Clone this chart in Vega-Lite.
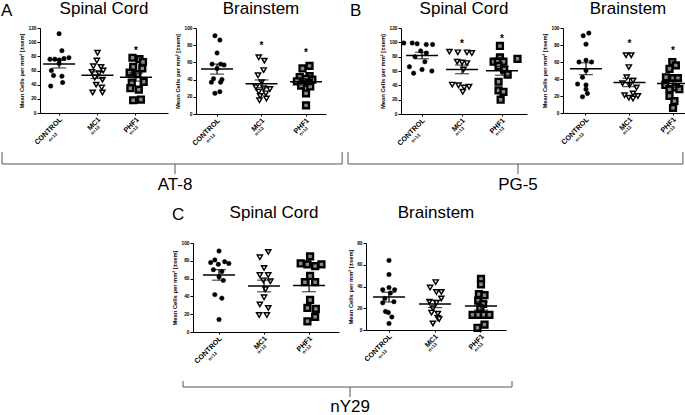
{
"$schema": "https://vega.github.io/schema/vega-lite/v6.json",
"background": "white",
"padding": 0,
"autosize": {"type": "pad"},
"config": {
  "view": {"stroke": null},
  "font": "Liberation Sans",
  "title": {"font": "Liberation Sans", "fontSize": 17, "fontWeight": "normal", "color": "#000", "frame": "group"},
  "axis": {"grid": false, "domainColor": "#000", "tickColor": "#000", "labelColor": "#000", "titleColor": "#000", "labelFont": "Liberation Sans", "titleFont": "Liberation Sans"},
  "axisY": {"tickSize": 3, "labelFontSize": 4.8, "labelFontWeight": "bold", "labelPadding": 1, "labelOverlap": false, "labelFlush": false, "titleFontSize": 5.8, "titleFontWeight": "bold", "titlePadding": 3},
  "axisX": {"labelAngle": -45, "labelAlign": "right", "labelBaseline": "middle", "labelFontSize": 7.2, "labelFontWeight": "bold", "labelPadding": 3, "labelOffset": 2, "tickSize": 2}
},
"datasets": {
  "pts": [
    {"p":"A-SC","g":"CONTROL","v":112,"s":0},{"p":"A-SC","g":"CONTROL","v":88,"s":0.2},{"p":"A-SC","g":"CONTROL","v":78,"s":0.7},{"p":"A-SC","g":"CONTROL","v":77,"s":0.35},{"p":"A-SC","g":"CONTROL","v":76,"s":-0.3},{"p":"A-SC","g":"CONTROL","v":76,"s":-0.65},{"p":"A-SC","g":"CONTROL","v":75,"s":0.02},{"p":"A-SC","g":"CONTROL","v":70,"s":0},{"p":"A-SC","g":"CONTROL","v":60,"s":-0.55},{"p":"A-SC","g":"CONTROL","v":53,"s":-0.4},{"p":"A-SC","g":"CONTROL","v":52,"s":0.2},{"p":"A-SC","g":"CONTROL","v":43,"s":0.25},{"p":"A-SC","g":"CONTROL","v":38,"s":-0.6},
    {"p":"A-SC","g":"MC1","v":85,"s":0},{"p":"A-SC","g":"MC1","v":74,"s":-0.05},{"p":"A-SC","g":"MC1","v":66,"s":-0.3},{"p":"A-SC","g":"MC1","v":65,"s":0.25},{"p":"A-SC","g":"MC1","v":60,"s":0.4},{"p":"A-SC","g":"MC1","v":58,"s":-0.4},{"p":"A-SC","g":"MC1","v":56,"s":0.1},{"p":"A-SC","g":"MC1","v":50,"s":-0.2},{"p":"A-SC","g":"MC1","v":47,"s":0.35},{"p":"A-SC","g":"MC1","v":40,"s":-0.1},{"p":"A-SC","g":"MC1","v":36,"s":0.3},{"p":"A-SC","g":"MC1","v":29,"s":-0.35},{"p":"A-SC","g":"MC1","v":29,"s":0.35},
    {"p":"A-SC","g":"PHF1","v":78,"s":-0.25},{"p":"A-SC","g":"PHF1","v":76,"s":0.25},{"p":"A-SC","g":"PHF1","v":72,"s":0.5},{"p":"A-SC","g":"PHF1","v":65,"s":-0.2},{"p":"A-SC","g":"PHF1","v":63,"s":0.45},{"p":"A-SC","g":"PHF1","v":57,"s":-0.45},{"p":"A-SC","g":"PHF1","v":55,"s":0.1},{"p":"A-SC","g":"PHF1","v":44,"s":0.55},{"p":"A-SC","g":"PHF1","v":43,"s":-0.3},{"p":"A-SC","g":"PHF1","v":35,"s":-0.4},{"p":"A-SC","g":"PHF1","v":33,"s":0.2},{"p":"A-SC","g":"PHF1","v":19,"s":0.35},{"p":"A-SC","g":"PHF1","v":18,"s":-0.2},
    {"p":"A-BS","g":"CONTROL","v":91,"s":-0.15},{"p":"A-BS","g":"CONTROL","v":86,"s":0.2},{"p":"A-BS","g":"CONTROL","v":71,"s":0},{"p":"A-BS","g":"CONTROL","v":58,"s":-0.35},{"p":"A-BS","g":"CONTROL","v":58,"s":0.25},{"p":"A-BS","g":"CONTROL","v":57,"s":0.5},{"p":"A-BS","g":"CONTROL","v":53,"s":0},{"p":"A-BS","g":"CONTROL","v":41,"s":-0.25},{"p":"A-BS","g":"CONTROL","v":40,"s":0.35},{"p":"A-BS","g":"CONTROL","v":37,"s":-0.4},{"p":"A-BS","g":"CONTROL","v":37,"s":0.25},{"p":"A-BS","g":"CONTROL","v":26,"s":0.2},{"p":"A-BS","g":"CONTROL","v":24,"s":-0.15},
    {"p":"A-BS","g":"MC1","v":66,"s":-0.2},{"p":"A-BS","g":"MC1","v":62,"s":0.2},{"p":"A-BS","g":"MC1","v":51,"s":0.15},{"p":"A-BS","g":"MC1","v":45,"s":-0.25},{"p":"A-BS","g":"MC1","v":37,"s":0},{"p":"A-BS","g":"MC1","v":31,"s":-0.4},{"p":"A-BS","g":"MC1","v":30,"s":0.15},{"p":"A-BS","g":"MC1","v":29,"s":0.6},{"p":"A-BS","g":"MC1","v":26,"s":-0.2},{"p":"A-BS","g":"MC1","v":24,"s":0.3},{"p":"A-BS","g":"MC1","v":21,"s":-0.1},{"p":"A-BS","g":"MC1","v":18,"s":0.35},{"p":"A-BS","g":"MC1","v":16,"s":-0.15},
    {"p":"A-BS","g":"PHF1","v":56,"s":0.25},{"p":"A-BS","g":"PHF1","v":53,"s":-0.25},{"p":"A-BS","g":"PHF1","v":44,"s":0.25},{"p":"A-BS","g":"PHF1","v":43,"s":-0.45},{"p":"A-BS","g":"PHF1","v":41,"s":0},{"p":"A-BS","g":"PHF1","v":40,"s":0.45},{"p":"A-BS","g":"PHF1","v":38,"s":-0.65},{"p":"A-BS","g":"PHF1","v":36,"s":0.2},{"p":"A-BS","g":"PHF1","v":33,"s":-0.35},{"p":"A-BS","g":"PHF1","v":32,"s":0.3},{"p":"A-BS","g":"PHF1","v":24,"s":0},{"p":"A-BS","g":"PHF1","v":10,"s":0},
    {"p":"B-SC","g":"CONTROL","v":99,"s":-1.3},{"p":"B-SC","g":"CONTROL","v":99,"s":-0.7},{"p":"B-SC","g":"CONTROL","v":98,"s":-0.35},{"p":"B-SC","g":"CONTROL","v":97,"s":0.3},{"p":"B-SC","g":"CONTROL","v":97,"s":0.75},{"p":"B-SC","g":"CONTROL","v":88,"s":-0.1},{"p":"B-SC","g":"CONTROL","v":85,"s":0.3},{"p":"B-SC","g":"CONTROL","v":80,"s":-0.5},{"p":"B-SC","g":"CONTROL","v":73,"s":0.2},{"p":"B-SC","g":"CONTROL","v":66,"s":-0.9},{"p":"B-SC","g":"CONTROL","v":62,"s":0},{"p":"B-SC","g":"CONTROL","v":60,"s":0.7},{"p":"B-SC","g":"CONTROL","v":57,"s":-0.6},
    {"p":"B-SC","g":"MC1","v":87,"s":-0.9},{"p":"B-SC","g":"MC1","v":86,"s":-0.3},{"p":"B-SC","g":"MC1","v":86,"s":0.35},{"p":"B-SC","g":"MC1","v":85,"s":0.7},{"p":"B-SC","g":"MC1","v":73,"s":-0.35},{"p":"B-SC","g":"MC1","v":72,"s":0},{"p":"B-SC","g":"MC1","v":71,"s":0.35},{"p":"B-SC","g":"MC1","v":62,"s":0.1},{"p":"B-SC","g":"MC1","v":41,"s":-0.7},{"p":"B-SC","g":"MC1","v":40,"s":-0.25},{"p":"B-SC","g":"MC1","v":38,"s":0.5},{"p":"B-SC","g":"MC1","v":37,"s":0.15},{"p":"B-SC","g":"MC1","v":31,"s":0.05},
    {"p":"B-SC","g":"PHF1","v":95,"s":-0.15},{"p":"B-SC","g":"PHF1","v":79,"s":-0.15},{"p":"B-SC","g":"PHF1","v":77,"s":1.1},{"p":"B-SC","g":"PHF1","v":73,"s":-0.6},{"p":"B-SC","g":"PHF1","v":73,"s":-0.3},{"p":"B-SC","g":"PHF1","v":73,"s":0.1},{"p":"B-SC","g":"PHF1","v":67,"s":-0.25},{"p":"B-SC","g":"PHF1","v":62,"s":0.15},{"p":"B-SC","g":"PHF1","v":55,"s":0.4},{"p":"B-SC","g":"PHF1","v":45,"s":-0.25},{"p":"B-SC","g":"PHF1","v":33,"s":-0.25},{"p":"B-SC","g":"PHF1","v":31,"s":0.1},{"p":"B-SC","g":"PHF1","v":20,"s":-0.1},
    {"p":"B-BS","g":"CONTROL","v":94,"s":0.2},{"p":"B-BS","g":"CONTROL","v":91,"s":-0.2},{"p":"B-BS","g":"CONTROL","v":81,"s":0},{"p":"B-BS","g":"CONTROL","v":62,"s":0},{"p":"B-BS","g":"CONTROL","v":60,"s":-0.5},{"p":"B-BS","g":"CONTROL","v":60,"s":0.4},{"p":"B-BS","g":"CONTROL","v":50,"s":0},{"p":"B-BS","g":"CONTROL","v":42,"s":-0.25},{"p":"B-BS","g":"CONTROL","v":34,"s":-0.6},{"p":"B-BS","g":"CONTROL","v":33,"s":0},{"p":"B-BS","g":"CONTROL","v":28,"s":0},{"p":"B-BS","g":"CONTROL","v":23,"s":0.1},{"p":"B-BS","g":"CONTROL","v":19,"s":-0.25},
    {"p":"B-BS","g":"MC1","v":68,"s":-0.25},{"p":"B-BS","g":"MC1","v":68,"s":0.12},{"p":"B-BS","g":"MC1","v":54,"s":-0.05},{"p":"B-BS","g":"MC1","v":42,"s":-0.2},{"p":"B-BS","g":"MC1","v":38,"s":0.25},{"p":"B-BS","g":"MC1","v":35,"s":-0.5},{"p":"B-BS","g":"MC1","v":33,"s":0},{"p":"B-BS","g":"MC1","v":30,"s":0.5},{"p":"B-BS","g":"MC1","v":23,"s":0.25},{"p":"B-BS","g":"MC1","v":21,"s":-0.35},{"p":"B-BS","g":"MC1","v":20,"s":0.6},{"p":"B-BS","g":"MC1","v":18,"s":-0.05},{"p":"B-BS","g":"MC1","v":17,"s":0.25},
    {"p":"B-BS","g":"PHF1","v":60,"s":-0.05},{"p":"B-BS","g":"PHF1","v":56,"s":0.2},{"p":"B-BS","g":"PHF1","v":52,"s":-0.25},{"p":"B-BS","g":"PHF1","v":42,"s":-0.5},{"p":"B-BS","g":"PHF1","v":41,"s":0},{"p":"B-BS","g":"PHF1","v":41,"s":0.35},{"p":"B-BS","g":"PHF1","v":33,"s":-0.55},{"p":"B-BS","g":"PHF1","v":30,"s":0.2},{"p":"B-BS","g":"PHF1","v":28,"s":-0.25},{"p":"B-BS","g":"PHF1","v":28,"s":0.45},{"p":"B-BS","g":"PHF1","v":20,"s":-0.25},{"p":"B-BS","g":"PHF1","v":14,"s":0.1},{"p":"B-BS","g":"PHF1","v":6,"s":0},
    {"p":"C-SC","g":"CONTROL","v":91,"s":0},{"p":"C-SC","g":"CONTROL","v":81,"s":-0.3},{"p":"C-SC","g":"CONTROL","v":79,"s":0.4},{"p":"C-SC","g":"CONTROL","v":78,"s":-0.6},{"p":"C-SC","g":"CONTROL","v":77,"s":0.7},{"p":"C-SC","g":"CONTROL","v":76,"s":-0.05},{"p":"C-SC","g":"CONTROL","v":70,"s":-0.4},{"p":"C-SC","g":"CONTROL","v":68,"s":0.2},{"p":"C-SC","g":"CONTROL","v":62,"s":0},{"p":"C-SC","g":"CONTROL","v":58,"s":0.3},{"p":"C-SC","g":"CONTROL","v":42,"s":-0.3},{"p":"C-SC","g":"CONTROL","v":38,"s":0.2},{"p":"C-SC","g":"CONTROL","v":14,"s":0},
    {"p":"C-SC","g":"MC1","v":90,"s":0.3},{"p":"C-SC","g":"MC1","v":84,"s":-0.3},{"p":"C-SC","g":"MC1","v":72,"s":0},{"p":"C-SC","g":"MC1","v":64,"s":-0.3},{"p":"C-SC","g":"MC1","v":64,"s":0.3},{"p":"C-SC","g":"MC1","v":58,"s":-0.05},{"p":"C-SC","g":"MC1","v":57,"s":0.45},{"p":"C-SC","g":"MC1","v":48,"s":0.1},{"p":"C-SC","g":"MC1","v":39,"s":0},{"p":"C-SC","g":"MC1","v":31,"s":-0.3},{"p":"C-SC","g":"MC1","v":27,"s":0.3},{"p":"C-SC","g":"MC1","v":19,"s":-0.35},{"p":"C-SC","g":"MC1","v":19,"s":0.2},
    {"p":"C-SC","g":"PHF1","v":85,"s":0.07},{"p":"C-SC","g":"PHF1","v":77,"s":-0.6},{"p":"C-SC","g":"PHF1","v":76,"s":-0.12},{"p":"C-SC","g":"PHF1","v":74,"s":0.43},{"p":"C-SC","g":"PHF1","v":76,"s":0.88},{"p":"C-SC","g":"PHF1","v":63,"s":0.07},{"p":"C-SC","g":"PHF1","v":56,"s":-0.3},{"p":"C-SC","g":"PHF1","v":56,"s":0.43},{"p":"C-SC","g":"PHF1","v":36,"s":0.07},{"p":"C-SC","g":"PHF1","v":27,"s":-0.12},{"p":"C-SC","g":"PHF1","v":26,"s":0.48},{"p":"C-SC","g":"PHF1","v":17,"s":0.43},{"p":"C-SC","g":"PHF1","v":12,"s":-0.12},
    {"p":"C-BS","g":"CONTROL","v":64,"s":0},{"p":"C-BS","g":"CONTROL","v":51,"s":0},{"p":"C-BS","g":"CONTROL","v":39,"s":0},{"p":"C-BS","g":"CONTROL","v":37,"s":-0.45},{"p":"C-BS","g":"CONTROL","v":37,"s":0.4},{"p":"C-BS","g":"CONTROL","v":34,"s":0.1},{"p":"C-BS","g":"CONTROL","v":29,"s":-0.3},{"p":"C-BS","g":"CONTROL","v":26,"s":0.35},{"p":"C-BS","g":"CONTROL","v":25,"s":-0.45},{"p":"C-BS","g":"CONTROL","v":17,"s":-0.25},{"p":"C-BS","g":"CONTROL","v":16,"s":-0.05},{"p":"C-BS","g":"CONTROL","v":12,"s":0.2},{"p":"C-BS","g":"CONTROL","v":6,"s":0},
    {"p":"C-BS","g":"MC1","v":44,"s":0.05},{"p":"C-BS","g":"MC1","v":39,"s":-0.35},{"p":"C-BS","g":"MC1","v":35,"s":0.1},{"p":"C-BS","g":"MC1","v":35,"s":0.45},{"p":"C-BS","g":"MC1","v":29,"s":0.45},{"p":"C-BS","g":"MC1","v":26,"s":-0.4},{"p":"C-BS","g":"MC1","v":25,"s":0.1},{"p":"C-BS","g":"MC1","v":20,"s":-0.15},{"p":"C-BS","g":"MC1","v":16,"s":-0.25},{"p":"C-BS","g":"MC1","v":15,"s":0.2},{"p":"C-BS","g":"MC1","v":11,"s":0.2},{"p":"C-BS","g":"MC1","v":10,"s":0.3},{"p":"C-BS","g":"MC1","v":6,"s":-0.15},
    {"p":"C-BS","g":"PHF1","v":47,"s":0},{"p":"C-BS","g":"PHF1","v":42,"s":0},{"p":"C-BS","g":"PHF1","v":33,"s":-0.15},{"p":"C-BS","g":"PHF1","v":32,"s":0.25},{"p":"C-BS","g":"PHF1","v":27,"s":-0.2},{"p":"C-BS","g":"PHF1","v":24,"s":0.15},{"p":"C-BS","g":"PHF1","v":20,"s":-0.05},{"p":"C-BS","g":"PHF1","v":14,"s":-0.6},{"p":"C-BS","g":"PHF1","v":14,"s":-0.2},{"p":"C-BS","g":"PHF1","v":14,"s":0.2},{"p":"C-BS","g":"PHF1","v":14,"s":0.6},{"p":"C-BS","g":"PHF1","v":5,"s":0.25},{"p":"C-BS","g":"PHF1","v":2,"s":-0.25}
  ],
  "stars": [
    {"p":"A-SC","g":"PHF1","v":90},{"p":"A-BS","g":"MC1","v":81},{"p":"A-BS","g":"PHF1","v":73},{"p":"B-SC","g":"MC1","v":101},{"p":"B-SC","g":"PHF1","v":107},{"p":"B-BS","g":"MC1","v":84},{"p":"B-BS","g":"PHF1","v":75}
  ],
  "brk1": [
    {"label":"AT-8","start":0.15,"end":49.8,"mid":25.4},
    {"label":"PG-5","start":50.66,"end":99.55,"mid":75.47}
  ],
  "brk2": [
    {"label":"nY29","start":26.57,"end":74.6,"mid":50.95}
  ]
},
"spacing": 0,
"vconcat": [
  {"spacing": 23, "hconcat": [
    {"title": {"text": "A", "anchor": "start", "frame": "bounds", "offset": -20, "dx": -18}, "spacing": 6, "hconcat": [
      {"width": 128, "height": 85, "title": {"text": "Spinal Cord", "offset": 7}, "resolve": {"axis": {"x": "independent"}},
       "layer": [
        {"data": {"name": "pts"}, "transform": [{"filter": "datum.p=='A-SC'"}],
         "mark": {"type": "point", "filled": true, "stroke": "#000", "opacity": 1},
         "encoding": {
          "x": {"field": "g", "type": "nominal", "title": null, "scale": {"type": "band", "domain": ["CONTROL","MC1","PHF1"], "paddingInner": 0.27, "paddingOuter": 0.3, "align": 0.22}},
          "xOffset": {"field": "s", "type": "quantitative", "scale": {"domain": [-1, 1]}},
          "y": {"field": "v", "type": "quantitative", "title": "Mean Cells per mm² [±sem]", "scale": {"domain": [0, 120], "nice": false}, "axis": {"values": [0,20,40,60,80,100,120]}},
          "shape": {"field": "g", "type": "nominal", "scale": {"domain": ["CONTROL","MC1","PHF1"], "range": ["circle","triangle-down","square"]}, "legend": null},
          "fill": {"field": "g", "type": "nominal", "scale": {"domain": ["CONTROL","MC1","PHF1"], "range": ["#000","#fff","#888"]}, "legend": null},
          "size": {"field": "g", "type": "nominal", "scale": {"domain": ["CONTROL","MC1","PHF1"], "range": [20, 34, 22]}, "legend": null},
          "strokeWidth": {"field": "g", "type": "nominal", "scale": {"domain": ["CONTROL","MC1","PHF1"], "range": [0.5, 2.4, 1.1]}, "legend": null}
         }},
        {"data": {"name": "pts"}, "transform": [{"filter": "datum.p=='A-SC'"}],
         "mark": {"type": "tick", "color": "#000", "size": 32, "thickness": 1.5},
         "encoding": {
          "x": {"field": "g", "type": "nominal", "title": null, "axis": {"orient": "bottom", "labelExpr": "'n=13'", "domain": false, "ticks": false, "labelAngle": -45, "labelAlign": "center", "labelBaseline": "middle", "labelFontSize": 4.5, "labelPadding": {"condition": {"test": "datum.value=='CONTROL'", "value": 24}, "value": 17}, "labelOffset": {"condition": {"test": "datum.value=='CONTROL'", "value": -6}, "value": -2}}},
          "y": {"aggregate": "mean", "field": "v", "type": "quantitative", "title": "Mean Cells per mm² [±sem]", "axis": {"values": [0,20,40,60,80,100,120]}}
         }},
        {"data": {"name": "pts"}, "transform": [{"filter": "datum.p=='A-SC'"}],
         "mark": {"type": "errorbar", "extent": "stderr", "color": "#000", "ticks": {"size": 14, "thickness": 1.2}, "rule": {"strokeWidth": 1.2}},
         "encoding": {
          "x": {"field": "g", "type": "nominal", "axis": null},
          "y": {"field": "v", "type": "quantitative", "title": "Mean Cells per mm² [±sem]", "axis": {"values": [0,20,40,60,80,100,120]}}
         }},
        {"data": {"name": "stars"}, "transform": [{"filter": "datum.p=='A-SC'"}],
         "mark": {"type": "text", "text": "*", "fontSize": 10, "fontWeight": "bold", "baseline": "middle", "dy": 2, "color": "#000"},
         "encoding": {
          "x": {"field": "g", "type": "nominal", "axis": null},
          "y": {"field": "v", "type": "quantitative", "title": "Mean Cells per mm² [±sem]", "axis": {"values": [0,20,40,60,80,100,120]}}
         }}
       ]},
      {"width": 130, "height": 86, "title": {"text": "Brainstem", "offset": 7}, "resolve": {"axis": {"x": "independent"}},
       "layer": [
        {"data": {"name": "pts"}, "transform": [{"filter": "datum.p=='A-BS'"}],
         "mark": {"type": "point", "filled": true, "stroke": "#000", "opacity": 1},
         "encoding": {
          "x": {"field": "g", "type": "nominal", "title": null, "scale": {"type": "band", "domain": ["CONTROL","MC1","PHF1"], "paddingInner": 0.37, "paddingOuter": 0.146, "align": 0.54}},
          "xOffset": {"field": "s", "type": "quantitative", "scale": {"domain": [-1, 1]}},
          "y": {"field": "v", "type": "quantitative", "title": "Mean Cells per mm² [±sem]", "scale": {"domain": [0, 100], "nice": false}, "axis": {"values": [0,20,40,60,80,100]}},
          "shape": {"field": "g", "type": "nominal", "scale": {"domain": ["CONTROL","MC1","PHF1"], "range": ["circle","triangle-down","square"]}, "legend": null},
          "fill": {"field": "g", "type": "nominal", "scale": {"domain": ["CONTROL","MC1","PHF1"], "range": ["#000","#fff","#888"]}, "legend": null},
          "size": {"field": "g", "type": "nominal", "scale": {"domain": ["CONTROL","MC1","PHF1"], "range": [20, 34, 22]}, "legend": null},
          "strokeWidth": {"field": "g", "type": "nominal", "scale": {"domain": ["CONTROL","MC1","PHF1"], "range": [0.5, 2.4, 1.1]}, "legend": null}
         }},
        {"data": {"name": "pts"}, "transform": [{"filter": "datum.p=='A-BS'"}],
         "mark": {"type": "tick", "color": "#000", "size": 32, "thickness": 1.5},
         "encoding": {
          "x": {"field": "g", "type": "nominal", "title": null, "axis": {"orient": "bottom", "labelExpr": "datum.value=='PHF1' ? 'n=12' : 'n=13'", "domain": false, "ticks": false, "labelAngle": -45, "labelAlign": "center", "labelBaseline": "middle", "labelFontSize": 4.5, "labelPadding": {"condition": {"test": "datum.value=='CONTROL'", "value": 24}, "value": 17}, "labelOffset": {"condition": {"test": "datum.value=='CONTROL'", "value": -6}, "value": -2}}},
          "y": {"aggregate": "mean", "field": "v", "type": "quantitative", "title": "Mean Cells per mm² [±sem]", "axis": {"values": [0,20,40,60,80,100]}}
         }},
        {"data": {"name": "pts"}, "transform": [{"filter": "datum.p=='A-BS'"}],
         "mark": {"type": "errorbar", "extent": "stderr", "color": "#000", "ticks": {"size": 14, "thickness": 1.2}, "rule": {"strokeWidth": 1.2}},
         "encoding": {
          "x": {"field": "g", "type": "nominal", "axis": null},
          "y": {"field": "v", "type": "quantitative", "title": "Mean Cells per mm² [±sem]", "axis": {"values": [0,20,40,60,80,100]}}
         }},
        {"data": {"name": "stars"}, "transform": [{"filter": "datum.p=='A-BS'"}],
         "mark": {"type": "text", "text": "*", "fontSize": 10, "fontWeight": "bold", "baseline": "middle", "dy": 2, "color": "#000"},
         "encoding": {
          "x": {"field": "g", "type": "nominal", "axis": null},
          "y": {"field": "v", "type": "quantitative", "title": "Mean Cells per mm² [±sem]", "axis": {"values": [0,20,40,60,80,100]}}
         }}
       ]}
    ]},
    {"title": {"text": "B", "anchor": "start", "frame": "bounds", "offset": -20, "dx": -30}, "spacing": 14, "hconcat": [
      {"width": 126, "height": 86, "title": {"text": "Spinal Cord", "offset": 7}, "resolve": {"axis": {"x": "independent"}},
       "layer": [
        {"data": {"name": "pts"}, "transform": [{"filter": "datum.p=='B-SC'"}],
         "mark": {"type": "point", "filled": true, "stroke": "#000", "opacity": 1},
         "encoding": {
          "x": {"field": "g", "type": "nominal", "title": null, "scale": {"type": "band", "domain": ["CONTROL","MC1","PHF1"], "paddingInner": 0.3, "paddingOuter": 0.225, "align": 0.39}},
          "xOffset": {"field": "s", "type": "quantitative", "scale": {"domain": [-1, 1]}},
          "y": {"field": "v", "type": "quantitative", "title": "Mean Cells per mm² [±sem]", "scale": {"domain": [0, 120], "nice": false}, "axis": {"values": [0,20,40,60,80,100,120]}},
          "shape": {"field": "g", "type": "nominal", "scale": {"domain": ["CONTROL","MC1","PHF1"], "range": ["circle","triangle-down","square"]}, "legend": null},
          "fill": {"field": "g", "type": "nominal", "scale": {"domain": ["CONTROL","MC1","PHF1"], "range": ["#000","#fff","#888"]}, "legend": null},
          "size": {"field": "g", "type": "nominal", "scale": {"domain": ["CONTROL","MC1","PHF1"], "range": [20, 34, 22]}, "legend": null},
          "strokeWidth": {"field": "g", "type": "nominal", "scale": {"domain": ["CONTROL","MC1","PHF1"], "range": [0.5, 2.4, 1.1]}, "legend": null}
         }},
        {"data": {"name": "pts"}, "transform": [{"filter": "datum.p=='B-SC'"}],
         "mark": {"type": "tick", "color": "#000", "size": 32, "thickness": 1.5},
         "encoding": {
          "x": {"field": "g", "type": "nominal", "title": null, "axis": {"orient": "bottom", "labelExpr": "'n=13'", "domain": false, "ticks": false, "labelAngle": -45, "labelAlign": "center", "labelBaseline": "middle", "labelFontSize": 4.5, "labelPadding": {"condition": {"test": "datum.value=='CONTROL'", "value": 24}, "value": 17}, "labelOffset": {"condition": {"test": "datum.value=='CONTROL'", "value": -6}, "value": -2}}},
          "y": {"aggregate": "mean", "field": "v", "type": "quantitative", "title": "Mean Cells per mm² [±sem]", "axis": {"values": [0,20,40,60,80,100,120]}}
         }},
        {"data": {"name": "pts"}, "transform": [{"filter": "datum.p=='B-SC'"}],
         "mark": {"type": "errorbar", "extent": "stderr", "color": "#000", "ticks": {"size": 14, "thickness": 1.2}, "rule": {"strokeWidth": 1.2}},
         "encoding": {
          "x": {"field": "g", "type": "nominal", "axis": null},
          "y": {"field": "v", "type": "quantitative", "title": "Mean Cells per mm² [±sem]", "axis": {"values": [0,20,40,60,80,100,120]}}
         }},
        {"data": {"name": "stars"}, "transform": [{"filter": "datum.p=='B-SC'"}],
         "mark": {"type": "text", "text": "*", "fontSize": 10, "fontWeight": "bold", "baseline": "middle", "dy": 2, "color": "#000"},
         "encoding": {
          "x": {"field": "g", "type": "nominal", "axis": null},
          "y": {"field": "v", "type": "quantitative", "title": "Mean Cells per mm² [±sem]", "axis": {"values": [0,20,40,60,80,100,120]}}
         }}
       ]},
      {"width": 130, "height": 85, "title": {"text": "Brainstem", "offset": 7}, "resolve": {"axis": {"x": "independent"}},
       "layer": [
        {"data": {"name": "pts"}, "transform": [{"filter": "datum.p=='B-BS'"}],
         "mark": {"type": "point", "filled": true, "stroke": "#000", "opacity": 1},
         "encoding": {
          "x": {"field": "g", "type": "nominal", "title": null, "scale": {"type": "band", "domain": ["CONTROL","MC1","PHF1"], "paddingInner": 0.356, "paddingOuter": 0.172, "align": 0.6}},
          "xOffset": {"field": "s", "type": "quantitative", "scale": {"domain": [-1, 1]}},
          "y": {"field": "v", "type": "quantitative", "title": "Mean Cells per mm² [±sem]", "scale": {"domain": [0, 100], "nice": false}, "axis": {"values": [0,20,40,60,80,100]}},
          "shape": {"field": "g", "type": "nominal", "scale": {"domain": ["CONTROL","MC1","PHF1"], "range": ["circle","triangle-down","square"]}, "legend": null},
          "fill": {"field": "g", "type": "nominal", "scale": {"domain": ["CONTROL","MC1","PHF1"], "range": ["#000","#fff","#888"]}, "legend": null},
          "size": {"field": "g", "type": "nominal", "scale": {"domain": ["CONTROL","MC1","PHF1"], "range": [20, 34, 22]}, "legend": null},
          "strokeWidth": {"field": "g", "type": "nominal", "scale": {"domain": ["CONTROL","MC1","PHF1"], "range": [0.5, 2.4, 1.1]}, "legend": null}
         }},
        {"data": {"name": "pts"}, "transform": [{"filter": "datum.p=='B-BS'"}],
         "mark": {"type": "tick", "color": "#000", "size": 32, "thickness": 1.5},
         "encoding": {
          "x": {"field": "g", "type": "nominal", "title": null, "axis": {"orient": "bottom", "labelExpr": "'n=13'", "domain": false, "ticks": false, "labelAngle": -45, "labelAlign": "center", "labelBaseline": "middle", "labelFontSize": 4.5, "labelPadding": {"condition": {"test": "datum.value=='CONTROL'", "value": 24}, "value": 17}, "labelOffset": {"condition": {"test": "datum.value=='CONTROL'", "value": -6}, "value": -2}}},
          "y": {"aggregate": "mean", "field": "v", "type": "quantitative", "title": "Mean Cells per mm² [±sem]", "axis": {"values": [0,20,40,60,80,100]}}
         }},
        {"data": {"name": "pts"}, "transform": [{"filter": "datum.p=='B-BS'"}],
         "mark": {"type": "errorbar", "extent": "stderr", "color": "#000", "ticks": {"size": 14, "thickness": 1.2}, "rule": {"strokeWidth": 1.2}},
         "encoding": {
          "x": {"field": "g", "type": "nominal", "axis": null},
          "y": {"field": "v", "type": "quantitative", "title": "Mean Cells per mm² [±sem]", "axis": {"values": [0,20,40,60,80,100]}}
         }},
        {"data": {"name": "stars"}, "transform": [{"filter": "datum.p=='B-BS'"}],
         "mark": {"type": "text", "text": "*", "fontSize": 10, "fontWeight": "bold", "baseline": "middle", "dy": 2, "color": "#000"},
         "encoding": {
          "x": {"field": "g", "type": "nominal", "axis": null},
          "y": {"field": "v", "type": "quantitative", "title": "Mean Cells per mm² [±sem]", "axis": {"values": [0,20,40,60,80,100]}}
         }}
       ]}
    ]}
  ]},
  {"width": 646, "height": 57, "data": {"name": "brk1"},
   "layer": [
    {"mark": {"type": "rule", "color": "#555", "strokeWidth": 1}, "encoding": {"x": {"field": "start", "type": "quantitative", "scale": {"domain": [5.69, 100], "zero": false, "nice": false}, "axis": null}, "x2": {"field": "end"}, "y": {"datum": 0.702, "type": "quantitative", "scale": {"domain": [0, 1]}, "axis": null}}},
    {"mark": {"type": "rule", "color": "#555", "strokeWidth": 1}, "encoding": {"x": {"field": "start", "type": "quantitative", "scale": {"domain": [5.69, 100], "zero": false, "nice": false}, "axis": null}, "y": {"datum": 0.702, "type": "quantitative", "axis": null}, "y2": {"datum": 0.912}}},
    {"mark": {"type": "rule", "color": "#555", "strokeWidth": 1}, "encoding": {"x": {"field": "end", "type": "quantitative", "scale": {"domain": [5.69, 100], "zero": false, "nice": false}, "axis": null}, "y": {"datum": 0.702, "type": "quantitative", "axis": null}, "y2": {"datum": 0.912}}},
    {"mark": {"type": "rule", "color": "#555", "strokeWidth": 1}, "encoding": {"x": {"field": "mid", "type": "quantitative", "scale": {"domain": [5.69, 100], "zero": false, "nice": false}, "axis": null}, "y": {"datum": 0.526, "type": "quantitative", "axis": null}, "y2": {"datum": 0.702}}},
    {"mark": {"type": "text", "fontSize": 17, "baseline": "alphabetic", "color": "#000"}, "encoding": {"x": {"field": "mid", "type": "quantitative", "scale": {"domain": [5.69, 100], "zero": false, "nice": false}, "axis": null}, "y": {"datum": 0.246, "type": "quantitative", "axis": null}, "text": {"field": "label"}}}
   ]},
  {"spacing": 0, "hconcat": [
    {"width": 131, "height": 10, "data": {"values": []}, "mark": {"type": "point", "opacity": 0}, "encoding": {}},
    {"title": {"text": "C", "anchor": "start", "frame": "bounds", "offset": -20}, "spacing": 8, "hconcat": [
      {"width": 146, "height": 89, "title": {"text": "Spinal Cord", "offset": 18, "dx": 8}, "resolve": {"axis": {"x": "independent"}},
       "layer": [
        {"data": {"name": "pts"}, "transform": [{"filter": "datum.p=='C-SC'"}],
         "mark": {"type": "point", "filled": true, "stroke": "#000", "opacity": 1},
         "encoding": {
          "x": {"field": "g", "type": "nominal", "title": null, "scale": {"type": "band", "domain": ["CONTROL","MC1","PHF1"], "paddingInner": 0.378, "paddingOuter": 0.31, "align": 0.43}},
          "xOffset": {"field": "s", "type": "quantitative", "scale": {"domain": [-1, 1]}},
          "y": {"field": "v", "type": "quantitative", "title": "Mean Cells per mm² [±sem]", "scale": {"domain": [0, 100], "nice": false}, "axis": {"values": [0,20,40,60,80,100]}},
          "shape": {"field": "g", "type": "nominal", "scale": {"domain": ["CONTROL","MC1","PHF1"], "range": ["circle","triangle-down","square"]}, "legend": null},
          "fill": {"field": "g", "type": "nominal", "scale": {"domain": ["CONTROL","MC1","PHF1"], "range": ["#000","#fff","#888"]}, "legend": null},
          "size": {"field": "g", "type": "nominal", "scale": {"domain": ["CONTROL","MC1","PHF1"], "range": [20, 34, 22]}, "legend": null},
          "strokeWidth": {"field": "g", "type": "nominal", "scale": {"domain": ["CONTROL","MC1","PHF1"], "range": [0.5, 2.4, 1.1]}, "legend": null}
         }},
        {"data": {"name": "pts"}, "transform": [{"filter": "datum.p=='C-SC'"}],
         "mark": {"type": "tick", "color": "#000", "size": 32, "thickness": 1.5},
         "encoding": {
          "x": {"field": "g", "type": "nominal", "title": null, "axis": {"orient": "bottom", "labelExpr": "'n=13'", "domain": false, "ticks": false, "labelAngle": -45, "labelAlign": "center", "labelBaseline": "middle", "labelFontSize": 4.5, "labelPadding": {"condition": {"test": "datum.value=='CONTROL'", "value": 24}, "value": 17}, "labelOffset": {"condition": {"test": "datum.value=='CONTROL'", "value": -6}, "value": -2}}},
          "y": {"aggregate": "mean", "field": "v", "type": "quantitative", "title": "Mean Cells per mm² [±sem]", "axis": {"values": [0,20,40,60,80,100]}}
         }},
        {"data": {"name": "pts"}, "transform": [{"filter": "datum.p=='C-SC'"}],
         "mark": {"type": "errorbar", "extent": "stderr", "color": "#000", "ticks": {"size": 14, "thickness": 1.2}, "rule": {"strokeWidth": 1.2}},
         "encoding": {
          "x": {"field": "g", "type": "nominal", "axis": null},
          "y": {"field": "v", "type": "quantitative", "title": "Mean Cells per mm² [±sem]", "axis": {"values": [0,20,40,60,80,100]}}
         }}
       ]},
      {"width": 140, "height": 87, "title": {"text": "Brainstem", "offset": 18}, "resolve": {"axis": {"x": "independent"}},
       "layer": [
        {"data": {"name": "pts"}, "transform": [{"filter": "datum.p=='C-BS'"}],
         "mark": {"type": "point", "filled": true, "stroke": "#000", "opacity": 1},
         "encoding": {
          "x": {"field": "g", "type": "nominal", "title": null, "scale": {"type": "band", "domain": ["CONTROL","MC1","PHF1"], "paddingInner": 0.39, "paddingOuter": 0.217, "align": 0.45}},
          "xOffset": {"field": "s", "type": "quantitative", "scale": {"domain": [-1, 1]}},
          "y": {"field": "v", "type": "quantitative", "title": "Mean Cells per mm² [±sem]", "scale": {"domain": [0, 80], "nice": false}, "axis": {"values": [0,20,40,60,80]}},
          "shape": {"field": "g", "type": "nominal", "scale": {"domain": ["CONTROL","MC1","PHF1"], "range": ["circle","triangle-down","square"]}, "legend": null},
          "fill": {"field": "g", "type": "nominal", "scale": {"domain": ["CONTROL","MC1","PHF1"], "range": ["#000","#fff","#888"]}, "legend": null},
          "size": {"field": "g", "type": "nominal", "scale": {"domain": ["CONTROL","MC1","PHF1"], "range": [20, 34, 22]}, "legend": null},
          "strokeWidth": {"field": "g", "type": "nominal", "scale": {"domain": ["CONTROL","MC1","PHF1"], "range": [0.5, 2.4, 1.1]}, "legend": null}
         }},
        {"data": {"name": "pts"}, "transform": [{"filter": "datum.p=='C-BS'"}],
         "mark": {"type": "tick", "color": "#000", "size": 32, "thickness": 1.5},
         "encoding": {
          "x": {"field": "g", "type": "nominal", "title": null, "axis": {"orient": "bottom", "labelExpr": "'n=13'", "domain": false, "ticks": false, "labelAngle": -45, "labelAlign": "center", "labelBaseline": "middle", "labelFontSize": 4.5, "labelPadding": {"condition": {"test": "datum.value=='CONTROL'", "value": 24}, "value": 17}, "labelOffset": {"condition": {"test": "datum.value=='CONTROL'", "value": -6}, "value": -2}}},
          "y": {"aggregate": "mean", "field": "v", "type": "quantitative", "title": "Mean Cells per mm² [±sem]", "axis": {"values": [0,20,40,60,80]}}
         }},
        {"data": {"name": "pts"}, "transform": [{"filter": "datum.p=='C-BS'"}],
         "mark": {"type": "errorbar", "extent": "stderr", "color": "#000", "ticks": {"size": 14, "thickness": 1.2}, "rule": {"strokeWidth": 1.2}},
         "encoding": {
          "x": {"field": "g", "type": "nominal", "axis": null},
          "y": {"field": "v", "type": "quantitative", "title": "Mean Cells per mm² [±sem]", "axis": {"values": [0,20,40,60,80]}}
         }}
       ]}
    ]}
  ]},
  {"width": 646, "height": 49, "data": {"name": "brk2"},
   "layer": [
    {"mark": {"type": "rule", "color": "#555", "strokeWidth": 1}, "encoding": {"x": {"field": "start", "type": "quantitative", "scale": {"domain": [5.69, 100], "zero": false, "nice": false}, "axis": null}, "x2": {"field": "end"}, "y": {"datum": 0.551, "type": "quantitative", "scale": {"domain": [0, 1]}, "axis": null}}},
    {"mark": {"type": "rule", "color": "#555", "strokeWidth": 1}, "encoding": {"x": {"field": "start", "type": "quantitative", "scale": {"domain": [5.69, 100], "zero": false, "nice": false}, "axis": null}, "y": {"datum": 0.551, "type": "quantitative", "axis": null}, "y2": {"datum": 0.673}}},
    {"mark": {"type": "rule", "color": "#555", "strokeWidth": 1}, "encoding": {"x": {"field": "end", "type": "quantitative", "scale": {"domain": [5.69, 100], "zero": false, "nice": false}, "axis": null}, "y": {"datum": 0.551, "type": "quantitative", "axis": null}, "y2": {"datum": 0.673}}},
    {"mark": {"type": "rule", "color": "#555", "strokeWidth": 1}, "encoding": {"x": {"field": "mid", "type": "quantitative", "scale": {"domain": [5.69, 100], "zero": false, "nice": false}, "axis": null}, "y": {"datum": 0.347, "type": "quantitative", "axis": null}, "y2": {"datum": 0.551}}},
    {"mark": {"type": "text", "fontSize": 17, "baseline": "alphabetic", "color": "#000"}, "encoding": {"x": {"field": "mid", "type": "quantitative", "scale": {"domain": [5.69, 100], "zero": false, "nice": false}, "axis": null}, "y": {"datum": 0.04, "type": "quantitative", "axis": null}, "text": {"field": "label"}}}
   ]}
]
}
